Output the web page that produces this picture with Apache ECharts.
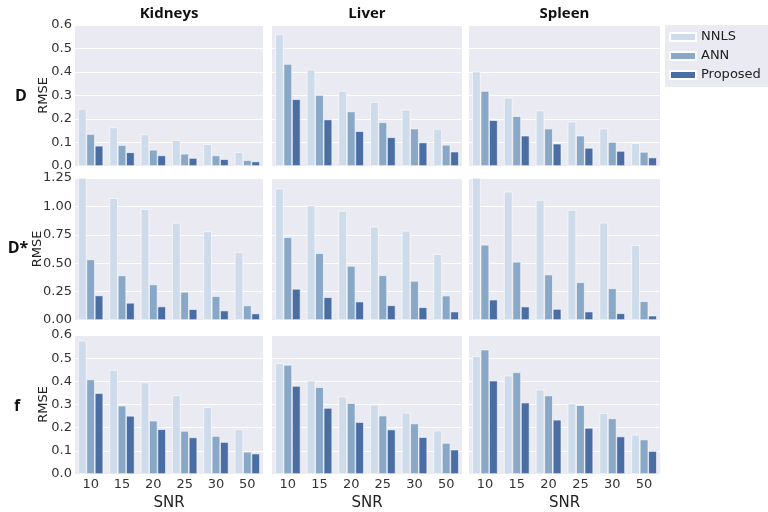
<!DOCTYPE html>
<html><head><meta charset="utf-8">
<script src="https://cdn.jsdelivr.net/npm/echarts@6/dist/echarts.min.js"></script>
<style>html,body{margin:0;padding:0;background:#fff}#c{width:768px;height:512px}</style>
</head><body><div id="c"></div>
<script>
const snr = ['10','15','20','25','30','50'];
const organs = ['Kidneys','Liver','Spleen'];
const params = ['D','D*','f'];
const methods = ['NNLS','ANN','Proposed'];

// D
const D_Kidneys_NNLS = [0.243,0.164,0.134,0.110,0.093,0.058];
const D_Kidneys_ANN = [0.136,0.089,0.069,0.052,0.045,0.025];
const D_Kidneys_Proposed = [0.086,0.058,0.045,0.034,0.029,0.019];
const D_Liver_NNLS = [0.560,0.410,0.319,0.272,0.239,0.158];
const D_Liver_ANN = [0.434,0.302,0.232,0.186,0.159,0.090];
const D_Liver_Proposed = [0.284,0.198,0.148,0.122,0.100,0.061];
const D_Spleen_NNLS = [0.401,0.290,0.236,0.189,0.159,0.097];
const D_Spleen_ANN = [0.319,0.212,0.159,0.129,0.102,0.060];
const D_Spleen_Proposed = [0.195,0.129,0.095,0.077,0.064,0.036];
// D*
const Ds_Kidneys_NNLS = [1.25,1.072,0.975,0.855,0.780,0.595];
const Ds_Kidneys_ANN = [0.533,0.392,0.313,0.248,0.210,0.128];
const Ds_Kidneys_Proposed = [0.216,0.151,0.119,0.095,0.083,0.057];
const Ds_Liver_NNLS = [1.156,1.006,0.959,0.821,0.785,0.579];
const Ds_Liver_ANN = [0.729,0.588,0.476,0.394,0.344,0.215];
const Ds_Liver_Proposed = [0.274,0.200,0.162,0.129,0.112,0.074];
const Ds_Spleen_NNLS = [1.25,1.129,1.056,0.968,0.856,0.659];
const Ds_Spleen_ANN = [0.662,0.512,0.400,0.332,0.279,0.165];
const Ds_Spleen_Proposed = [0.179,0.118,0.097,0.074,0.059,0.038];
// f
const f_Kidneys_NNLS = [0.575,0.449,0.395,0.339,0.288,0.193];
const f_Kidneys_ANN = [0.408,0.295,0.230,0.186,0.164,0.096];
const f_Kidneys_Proposed = [0.349,0.251,0.193,0.158,0.138,0.088];
const f_Liver_NNLS = [0.478,0.403,0.334,0.299,0.264,0.187];
const f_Liver_ANN = [0.471,0.375,0.306,0.252,0.218,0.134];
const f_Liver_Proposed = [0.380,0.285,0.224,0.192,0.159,0.105];
const f_Spleen_NNLS = [0.508,0.424,0.364,0.304,0.262,0.169];
const f_Spleen_ANN = [0.537,0.439,0.339,0.297,0.240,0.149];
const f_Spleen_Proposed = [0.403,0.308,0.234,0.199,0.162,0.099];

const yMax = [0.6, 1.25, 0.6];
const yInterval = [0.1, 0.25, 0.1];
const yDecimals = [1, 2, 1];

const data = [
  [[D_Kidneys_NNLS,D_Kidneys_ANN,D_Kidneys_Proposed],[D_Liver_NNLS,D_Liver_ANN,D_Liver_Proposed],[D_Spleen_NNLS,D_Spleen_ANN,D_Spleen_Proposed]],
  [[Ds_Kidneys_NNLS,Ds_Kidneys_ANN,Ds_Kidneys_Proposed],[Ds_Liver_NNLS,Ds_Liver_ANN,Ds_Liver_Proposed],[Ds_Spleen_NNLS,Ds_Spleen_ANN,Ds_Spleen_Proposed]],
  [[f_Kidneys_NNLS,f_Kidneys_ANN,f_Kidneys_Proposed],[f_Liver_NNLS,f_Liver_ANN,f_Liver_Proposed],[f_Spleen_NNLS,f_Spleen_ANN,f_Spleen_Proposed]]
];

const colors = ['#cddbea','#89a8c7','#4a6da3'];
const colLeft = [75, 272, 469];
const colWidth = [188, 190, 191];
const rowTop = [25, 178, 335];
const rowHeight = [141, 142, 142];
const tickFont = 'DejaVu Sans';
const tickColor = '#333';

const grids = [], xAxes = [], yAxes = [], series = [];
let idx = 0;
for (let r = 0; r < 3; r++) {
  for (let c = 0; c < 3; c++) {
    grids.push({left: colLeft[c], top: rowTop[r], width: colWidth[c], height: rowHeight[r],
      show: true, backgroundColor: '#eaeaf2', borderWidth: 0});
    xAxes.push({type: 'category', gridIndex: idx, data: snr,
      axisLine: {show: false}, axisTick: {show: false},
      axisLabel: {show: r === 2, fontFamily: tickFont, fontSize: 13, color: tickColor, margin: 4},
      name: r === 2 ? 'SNR' : '', nameLocation: 'middle', nameGap: 22, nameMoveOverlap: false,
      nameTextStyle: {fontFamily: tickFont, fontSize: 15, color: '#222'}});
    const dec = yDecimals[r];
    yAxes.push({type: 'value', gridIndex: idx, min: 0, max: yMax[r], interval: yInterval[r],
      axisLine: {show: false}, axisTick: {show: false},
      splitLine: {show: true, lineStyle: {color: '#ffffff', width: 1}},
      axisLabel: {show: c === 0, fontFamily: tickFont, fontSize: 13, color: tickColor, margin: 3,
        formatter: v => v.toFixed(dec)},
      name: c === 0 ? 'RMSE' : '', nameLocation: 'middle', nameGap: r === 1 ? 31 : 25, nameMoveOverlap: false,
      nameTextStyle: {fontFamily: tickFont, fontSize: 13, color: '#222'}});
    for (let m = 0; m < 3; m++) {
      series.push({type: 'bar', name: methods[m], xAxisIndex: idx, yAxisIndex: idx,
        data: data[r][c][m], barGap: '0%', barCategoryGap: '20%', clip: true,
        itemStyle: {color: colors[m], borderColor: '#ffffff', borderWidth: 0.6},
        emphasis: {disabled: true}, animation: false});
    }
    idx++;
  }
}

const graphics = [];
for (let c = 0; c < 3; c++) {
  graphics.push({type: 'text', x: colLeft[c] + colWidth[c] / 2, y: 14,
    style: {text: organs[c], font: 'bold 15px "Open Sans"', fill: '#111', textAlign: 'center', textVerticalAlign: 'middle'}});
}
const rowLabelY = [96, 248, 406];
const rowLabelX = [21, 18, 17];
for (let r = 0; r < 3; r++) {
  graphics.push({type: 'text', x: rowLabelX[r], y: rowLabelY[r],
    style: {text: params[r], font: 'bold 16px "Open Sans"', fill: '#111', textAlign: 'center', textVerticalAlign: 'middle'}});
}

const chart = echarts.init(document.getElementById('c'), null, {renderer: 'canvas'});
chart.setOption({
  animation: false,
  grid: grids, xAxis: xAxes, yAxis: yAxes, series: series,
  legend: {data: methods, orient: 'vertical', left: 665, top: 25,
    backgroundColor: '#eaeaf2', borderWidth: 0, padding: [5, 12, 5, 4],
    itemWidth: 26, itemHeight: 8, itemGap: 5, icon: 'rect',
    textStyle: {fontFamily: tickFont, fontSize: 13, color: '#222', lineHeight: 14}},
  graphic: graphics
});
</script></body></html>
